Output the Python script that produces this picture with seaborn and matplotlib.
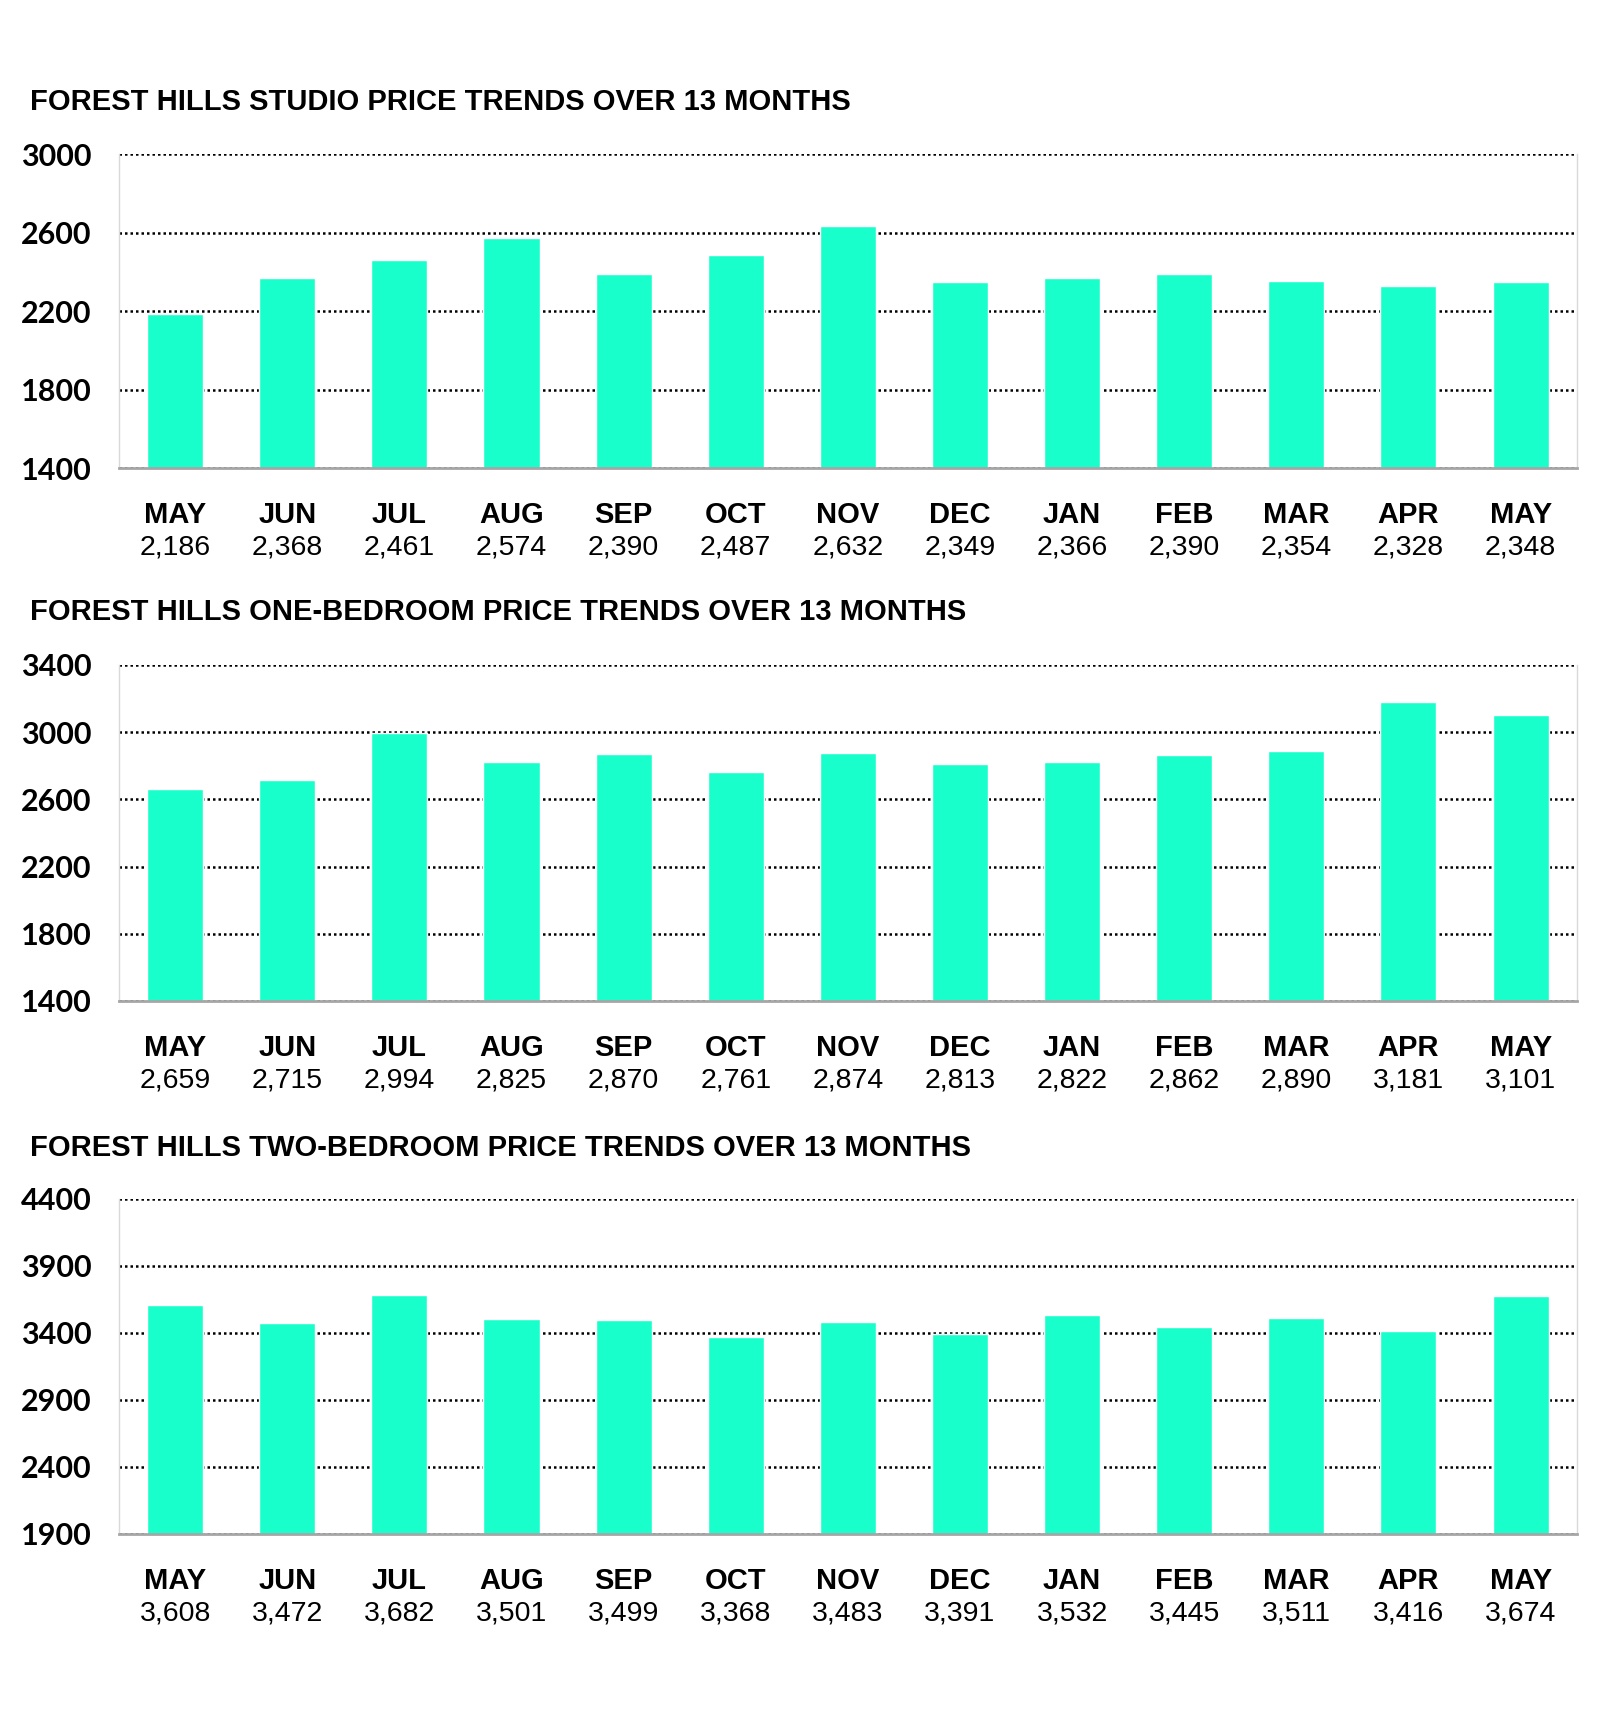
import numpy as np
import matplotlib
matplotlib.use("Agg")
import matplotlib.pyplot as plt
import seaborn as sns

# データ
months = ["MAY", "JUN", "JUL", "AUG", "SEP", "OCT", "NOV",
          "DEC", "JAN", "FEB", "MAR", "APR", "MAY"]
studio = [2186, 2368, 2461, 2574, 2390, 2487, 2632, 2349, 2366, 2390, 2354, 2328, 2348]
one_bed = [2659, 2715, 2994, 2825, 2870, 2761, 2874, 2813, 2822, 2862, 2890, 3181, 3101]
two_bed = [3608, 3472, 3682, 3501, 3499, 3368, 3483, 3391, 3532, 3445, 3511, 3416, 3674]

titles = ["FOREST HILLS STUDIO PRICE TRENDS OVER 13 MONTHS",
          "FOREST HILLS ONE-BEDROOM PRICE TRENDS OVER 13 MONTHS",
          "FOREST HILLS TWO-BEDROOM PRICE TRENDS OVER 13 MONTHS"]
yticks = [[1400, 1800, 2200, 2600, 3000],
          [1400, 1800, 2200, 2600, 3000, 3400],
          [1900, 2400, 2900, 3400, 3900, 4400]]

bar_color = "#19FFCC"

sns.set_style("white")
plt.rcParams["font.family"] = ["Liberation Sans", "DejaVu Sans"]
plt.rcParams["text.color"] = "black"
plt.rcParams["xtick.color"] = "black"
plt.rcParams["ytick.color"] = "black"

fig = plt.figure(figsize=(16, 17.29), dpi=100)

# 各パネルの位置 (left, bottom, width, height)
positions = [(0.0744, 0.7293, 0.911, 0.1816),
             (0.0744, 0.4211, 0.911, 0.1943),
             (0.0744, 0.1128, 0.911, 0.1938)]
title_y = [0.941, 0.646, 0.336]

for values, title, ticks, pos, ty in zip([studio, one_bed, two_bed], titles, yticks, positions, title_y):
    ax = fig.add_axes(pos)
    x = np.arange(len(values))
    sns.barplot(x=x, y=values, color=bar_color, width=0.5, saturation=1, ax=ax)
    ax.set_ylim(ticks[0], ticks[-1])
    ax.set_xlim(-0.5, len(values) - 0.5)
    ax.set_yticks(ticks)
    ax.set_yticklabels([str(t) for t in ticks],
                       fontdict={"family": ["Lato", "Liberation Sans"],
                                 "weight": "bold", "size": 22, "color": "black"})
    ax.tick_params(axis="y", length=0, pad=20)

    # グリッド (点線)
    ax.set_axisbelow(True)
    ax.yaxis.grid(True, color="black", linestyle=(0, (1, 1.2)), linewidth=1.8)
    ax.xaxis.grid(False)

    # 枠線
    ax.spines["top"].set_visible(False)
    ax.spines["left"].set_color("#d9d9d9")
    ax.spines["left"].set_linewidth(1)
    ax.spines["right"].set_color("#d9d9d9")
    ax.spines["right"].set_linewidth(1)
    ax.spines["bottom"].set_color("#a6a6a6")
    ax.spines["bottom"].set_linewidth(2)

    # x軸: 区切りの目盛りだけ表示
    ax.set_xticks(np.arange(len(values) + 1) - 0.5)
    ax.set_xticklabels([])
    ax.tick_params(axis="x", length=6, width=2, color="#a6a6a6", direction="out")
    ax.set_xlabel("")
    ax.set_ylabel("")

    for i, (m, v) in enumerate(zip(months, values)):
        ax.annotate(m, xy=(i, 0), xycoords=("data", "axes fraction"),
                    xytext=(0, -34), textcoords="offset points",
                    ha="center", va="center", fontsize=21, fontweight="bold", color="black")
        ax.annotate(f"{v:,}", xy=(i, 0), xycoords=("data", "axes fraction"),
                    xytext=(0, -57), textcoords="offset points",
                    ha="center", va="center", fontsize=20.5, color="black")

    fig.text(0.019, ty, title, ha="left", va="center", fontsize=21,
             fontweight="bold", color="black")

fig.savefig("out.png", dpi=100, facecolor="white")
